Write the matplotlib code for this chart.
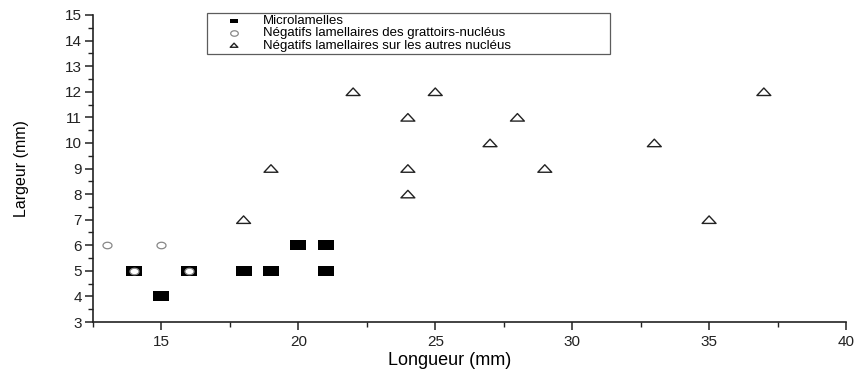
import matplotlib
matplotlib.use("Agg")
import matplotlib.pyplot as plt
from matplotlib.ticker import MultipleLocator
from matplotlib.path import Path
import numpy as np

plt.rcParams['font.family'] = ['Liberation Sans', 'DejaVu Sans']

micro_x = [14, 15, 16, 18, 19, 20, 21, 21]
micro_y = [5, 4, 5, 5, 5, 6, 6, 5]
gratt_x = [13, 15, 14, 16]
gratt_y = [6, 6, 5, 5]
autres_x = [18, 19, 22, 24, 24, 24, 25, 27, 28, 29, 33, 35, 37]
autres_y = [7, 9, 12, 11, 9, 8, 12, 10, 11, 9, 10, 7, 12]

labels = ["Microlamelles",
          "Négatifs lamellaires des grattoirs-nucléus",
          "Négatifs lamellaires sur les autres nucléus"]

rect = Path([(-0.8, -0.47), (0.8, -0.47), (0.8, 0.47), (-0.8, 0.47), (-0.8, -0.47)],
            [Path.MOVETO, Path.LINETO, Path.LINETO, Path.LINETO, Path.CLOSEPOLY])
t = np.linspace(0, 2 * np.pi, 41)
ellipse = Path(np.column_stack([0.5 * np.cos(t), 0.36 * np.sin(t)]))
tri = Path([(-0.5, -0.27), (0.5, -0.27), (0.0, 0.27), (-0.5, -0.27)],
           [Path.MOVETO, Path.LINETO, Path.LINETO, Path.CLOSEPOLY])

fig = plt.figure(figsize=(8.61, 3.72), dpi=100)
ax = fig.add_axes([93 / 861, 1 - 322 / 372, (846 - 93) / 861, (322 - 15) / 372])

ax.scatter(micro_x, micro_y, marker=rect, s=11.8 ** 2, c='black', linewidths=0,
           label=labels[0], zorder=3)
ax.scatter(gratt_x, gratt_y, marker=ellipse, s=6.5 ** 2, facecolors='white',
           edgecolors='#888888', linewidths=0.9, label=labels[1], zorder=4)
ax.scatter(autres_x, autres_y, marker=tri, s=10 ** 2, facecolors='none',
           edgecolors='#222222', linewidths=1.0, label=labels[2], zorder=3)

ax.set_xlim(12.5, 40)
ax.set_ylim(3, 15)
ax.xaxis.set_major_locator(MultipleLocator(5))
ax.xaxis.set_minor_locator(MultipleLocator(2.5))
ax.yaxis.set_major_locator(MultipleLocator(1))
ax.yaxis.set_minor_locator(MultipleLocator(0.5))
ax.spines['top'].set_visible(False)
ax.spines['right'].set_visible(False)
for sp in ('left', 'bottom'):
    ax.spines[sp].set_linewidth(1.2)
    ax.spines[sp].set_color('#222222')
ax.tick_params(axis='both', which='major', direction='out', length=6, width=1.1,
               labelsize=11, colors='#222222')
ax.tick_params(axis='both', which='minor', direction='out', length=3.5, width=1.0,
               colors='#222222')
ax.tick_params(axis='x', pad=3)
ax.tick_params(axis='y', pad=2)

ax.set_xlabel("Longueur (mm)", fontsize=13)
ax.set_ylabel("Largeur (mm)", fontsize=11.5)
ax.xaxis.set_label_coords((450 - 93) / 753, -0.098)
ax.yaxis.set_label_coords(-0.085, 0.5)

leg = ax.legend(loc='upper left',
                bbox_to_anchor=(207 / 861, 1 - 50 / 372, (610 - 207) / 861, 37 / 372),
                bbox_transform=fig.transFigure, mode='expand', frameon=True,
                fancybox=False, edgecolor='#333333', fontsize=9.5,
                handlelength=3.8, handletextpad=0.3, borderpad=0.15,
                labelspacing=0.0, borderaxespad=0, scatterpoints=1)
leg.get_frame().set_linewidth(0.9)
for h in leg.legend_handles:
    h.set_sizes([30])

fig.savefig("out.png", dpi=100)
